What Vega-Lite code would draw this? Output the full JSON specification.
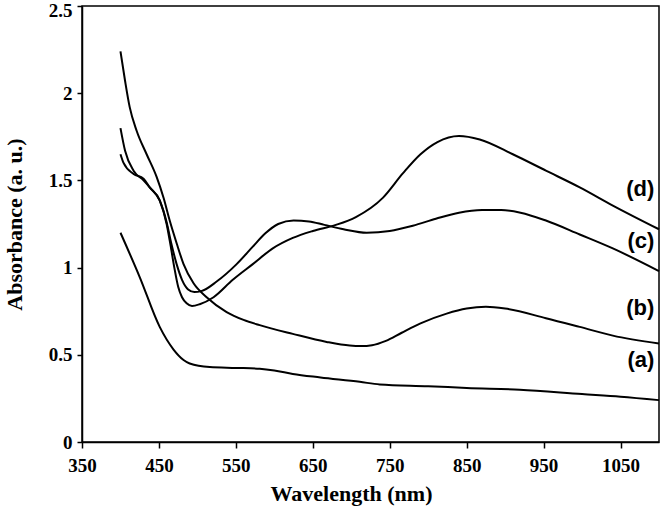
{
  "$schema": "https://vega.github.io/schema/vega-lite/v6.json",
  "autosize": "none",
  "width": 577,
  "height": 436,
  "padding": {"left": 82, "top": 6, "right": 2, "bottom": 70},
  "background": "white",
  "view": {"stroke": "black", "strokeWidth": 1.5},
  "datasets": {
    "curves": [
      {"s": "a", "wl": 400, "A": 1.20}, {"s": "a", "wl": 425, "A": 0.946}, {"s": "a", "wl": 451, "A": 0.66},
      {"s": "a", "wl": 469, "A": 0.53}, {"s": "a", "wl": 482, "A": 0.47}, {"s": "a", "wl": 490, "A": 0.45},
      {"s": "a", "wl": 516, "A": 0.43}, {"s": "a", "wl": 550, "A": 0.425}, {"s": "a", "wl": 581, "A": 0.42},
      {"s": "a", "wl": 600, "A": 0.41}, {"s": "a", "wl": 624, "A": 0.39}, {"s": "a", "wl": 660, "A": 0.37},
      {"s": "a", "wl": 711, "A": 0.345}, {"s": "a", "wl": 737, "A": 0.33}, {"s": "a", "wl": 800, "A": 0.32},
      {"s": "a", "wl": 850, "A": 0.31}, {"s": "a", "wl": 919, "A": 0.30}, {"s": "a", "wl": 1000, "A": 0.275},
      {"s": "a", "wl": 1050, "A": 0.26}, {"s": "a", "wl": 1100, "A": 0.24},

      {"s": "b", "wl": 400, "A": 2.24}, {"s": "b", "wl": 406, "A": 2.07}, {"s": "b", "wl": 412, "A": 1.92},
      {"s": "b", "wl": 421, "A": 1.785}, {"s": "b", "wl": 434, "A": 1.65}, {"s": "b", "wl": 447, "A": 1.52},
      {"s": "b", "wl": 456, "A": 1.40}, {"s": "b", "wl": 464, "A": 1.27}, {"s": "b", "wl": 473, "A": 1.14},
      {"s": "b", "wl": 482, "A": 1.02}, {"s": "b", "wl": 495, "A": 0.91}, {"s": "b", "wl": 512, "A": 0.83},
      {"s": "b", "wl": 538, "A": 0.745}, {"s": "b", "wl": 560, "A": 0.70}, {"s": "b", "wl": 581, "A": 0.67},
      {"s": "b", "wl": 624, "A": 0.62}, {"s": "b", "wl": 668, "A": 0.574}, {"s": "b", "wl": 698, "A": 0.553},
      {"s": "b", "wl": 713, "A": 0.55}, {"s": "b", "wl": 727, "A": 0.555}, {"s": "b", "wl": 745, "A": 0.58},
      {"s": "b", "wl": 765, "A": 0.625}, {"s": "b", "wl": 790, "A": 0.68},
      {"s": "b", "wl": 824, "A": 0.736}, {"s": "b", "wl": 850, "A": 0.765}, {"s": "b", "wl": 875, "A": 0.775},
      {"s": "b", "wl": 900, "A": 0.765}, {"s": "b", "wl": 953, "A": 0.71}, {"s": "b", "wl": 997, "A": 0.66},
      {"s": "b", "wl": 1040, "A": 0.61}, {"s": "b", "wl": 1100, "A": 0.565},

      {"s": "c", "wl": 400, "A": 1.65}, {"s": "c", "wl": 404, "A": 1.60}, {"s": "c", "wl": 417, "A": 1.537},
      {"s": "c", "wl": 430, "A": 1.51}, {"s": "c", "wl": 438, "A": 1.46}, {"s": "c", "wl": 451, "A": 1.385},
      {"s": "c", "wl": 460, "A": 1.26}, {"s": "c", "wl": 466, "A": 1.14}, {"s": "c", "wl": 473, "A": 1.02},
      {"s": "c", "wl": 480, "A": 0.93}, {"s": "c", "wl": 488, "A": 0.875}, {"s": "c", "wl": 496, "A": 0.86},
      {"s": "c", "wl": 505, "A": 0.865}, {"s": "c", "wl": 525, "A": 0.92}, {"s": "c", "wl": 551, "A": 1.02},
      {"s": "c", "wl": 572, "A": 1.12}, {"s": "c", "wl": 588, "A": 1.195}, {"s": "c", "wl": 605, "A": 1.25},
      {"s": "c", "wl": 625, "A": 1.27}, {"s": "c", "wl": 645, "A": 1.265}, {"s": "c", "wl": 665, "A": 1.245},
      {"s": "c", "wl": 690, "A": 1.22}, {"s": "c", "wl": 720, "A": 1.20}, {"s": "c", "wl": 750, "A": 1.21},
      {"s": "c", "wl": 780, "A": 1.24}, {"s": "c", "wl": 810, "A": 1.28}, {"s": "c", "wl": 840, "A": 1.315},
      {"s": "c", "wl": 870, "A": 1.33}, {"s": "c", "wl": 895, "A": 1.33}, {"s": "c", "wl": 920, "A": 1.315},
      {"s": "c", "wl": 953, "A": 1.27}, {"s": "c", "wl": 997, "A": 1.19}, {"s": "c", "wl": 1040, "A": 1.11},
      {"s": "c", "wl": 1100, "A": 0.98},

      {"s": "d", "wl": 400, "A": 1.80}, {"s": "d", "wl": 406, "A": 1.67}, {"s": "d", "wl": 417, "A": 1.556},
      {"s": "d", "wl": 430, "A": 1.50}, {"s": "d", "wl": 438, "A": 1.46}, {"s": "d", "wl": 451, "A": 1.385},
      {"s": "d", "wl": 460, "A": 1.25}, {"s": "d", "wl": 465, "A": 1.13}, {"s": "d", "wl": 470, "A": 1.0},
      {"s": "d", "wl": 475, "A": 0.89}, {"s": "d", "wl": 480, "A": 0.83}, {"s": "d", "wl": 486, "A": 0.795},
      {"s": "d", "wl": 493, "A": 0.78}, {"s": "d", "wl": 503, "A": 0.79}, {"s": "d", "wl": 521, "A": 0.83},
      {"s": "d", "wl": 546, "A": 0.93}, {"s": "d", "wl": 572, "A": 1.02}, {"s": "d", "wl": 598, "A": 1.11},
      {"s": "d", "wl": 624, "A": 1.17}, {"s": "d", "wl": 650, "A": 1.21}, {"s": "d", "wl": 680, "A": 1.245},
      {"s": "d", "wl": 706, "A": 1.29}, {"s": "d", "wl": 741, "A": 1.40},
      {"s": "d", "wl": 767, "A": 1.54}, {"s": "d", "wl": 790, "A": 1.65}, {"s": "d", "wl": 812, "A": 1.72},
      {"s": "d", "wl": 840, "A": 1.755}, {"s": "d", "wl": 867, "A": 1.735}, {"s": "d", "wl": 910, "A": 1.65},
      {"s": "d", "wl": 953, "A": 1.556}, {"s": "d", "wl": 997, "A": 1.46}, {"s": "d", "wl": 1040, "A": 1.356},
      {"s": "d", "wl": 1100, "A": 1.22}
    ],
    "labels": [
      {"label": "(d)", "wl": 1094, "A": 1.45},
      {"label": "(c)", "wl": 1094, "A": 1.15},
      {"label": "(b)", "wl": 1094, "A": 0.77},
      {"label": "(a)", "wl": 1094, "A": 0.47}
    ]
  },
  "layer": [
    {
      "data": {"name": "curves"},
      "mark": {"type": "line", "color": "black", "strokeWidth": 2, "interpolate": "monotone"},
      "encoding": {
        "x": {
          "field": "wl", "type": "quantitative",
          "scale": {"domain": [350, 1100], "nice": false, "zero": false},
          "axis": {
            "title": "Wavelength (nm)",
            "values": [350, 450, 550, 650, 750, 850, 950, 1050],
            "format": "d",
            "labelFlush": false,
            "labelOverlap": false,
            "grid": false,
            "domainColor": "black", "domainWidth": 1.5,
            "tickColor": "black", "tickWidth": 1.5, "tickSize": 6,
            "labelFont": "Liberation Serif", "labelFontWeight": "bold", "labelFontSize": 19, "labelColor": "black",
            "labelPadding": 8,
            "titleFont": "Liberation Serif", "titleFontWeight": "bold", "titleFontSize": 22, "titleColor": "black",
            "titlePadding": 8, "titleX": 269
          }
        },
        "y": {
          "field": "A", "type": "quantitative",
          "scale": {"domain": [0, 2.5], "nice": false},
          "axis": {
            "title": "Absorbance (a. u.)",
            "values": [0, 0.5, 1, 1.5, 2, 2.5],
            "format": "~g",
            "labelFlush": false,
            "labelOffset": {"condition": {"test": "datum.value == 2.5", "value": 4}, "value": 0},
            "labelOverlap": false,
            "grid": false,
            "domainColor": "black", "domainWidth": 1.5,
            "tickColor": "black", "tickWidth": 1.5, "tickSize": 5,
            "labelFont": "Liberation Serif", "labelFontWeight": "bold", "labelFontSize": 19, "labelColor": "black",
            "labelPadding": 5,
            "titleFont": "Liberation Serif", "titleFontWeight": "bold", "titleFontSize": 22, "titleColor": "black",
            "titlePadding": 22
          }
        },
        "detail": {"field": "s"}
      }
    },
    {
      "data": {"name": "labels"},
      "mark": {"type": "text", "align": "right", "baseline": "middle", "font": "Liberation Sans", "fontWeight": "bold", "fontSize": 22, "color": "black"},
      "encoding": {
        "x": {"field": "wl", "type": "quantitative"},
        "y": {"field": "A", "type": "quantitative"},
        "text": {"field": "label"}
      }
    }
  ]
}
